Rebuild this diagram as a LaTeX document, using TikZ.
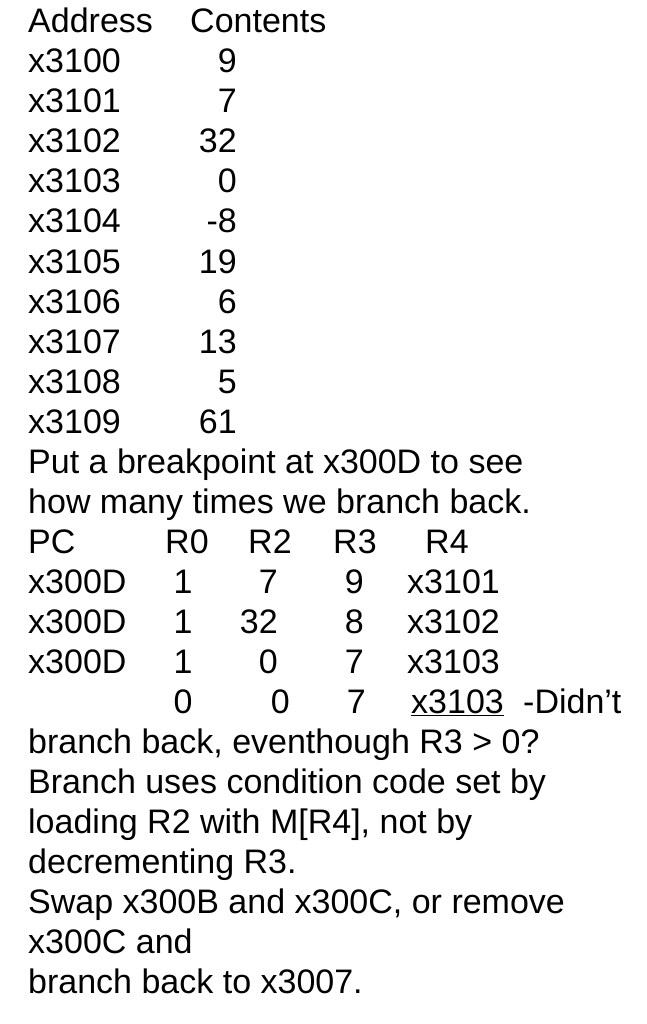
\documentclass[tikz,border=0pt]{standalone}
\usepackage{fontspec}
\setmainfont{Liberation Sans}
\begin{document}
\begin{tikzpicture}[x=1pt,y=-1pt,every node/.style={inner sep=0pt,font=\fontsize{34}{40}\selectfont},
 L/.style={anchor=base west},R/.style={anchor=base east},C/.style={anchor=base}]
\useasboundingbox (0,0) rectangle (646,1024);
\node[L] (h1) at (28,33) {Address};
\node[L] (h2) at (190,33) {Contents};
\foreach \a/\v [count=\i] in {x3100/9,x3101/7,x3102/32,x3103/0,x3104/-8,x3105/19,x3106/6,x3107/13,x3108/5,x3109/61}{
  \node[L] (a\i) at (28,33+40*\i) {\a};
  \node[R] (v\i) at (237,33+40*\i) {\v};
}
\node[L] (t1) at (28,473) {Put a breakpoint at x300D to see};
\node[L] (t2) at (28,513) {how many times we branch back.};
\node[L] (pc) at (28,553) {PC};
\node[L] (r0) at (165,553) {R0};
\node[L] (r2) at (248,553) {R2};
\node[L] (r3) at (333,553) {R3};
\node[L] (r4) at (425,553) {R4};
\foreach \rr/\b/\c/\d [count=\i] in {7/9/x3101,32/8/x3102,0/7/x3103}{
  \node[L] (p\i) at (28,553+40*\i) {x300D};
  \node[C] (q\i) at (183,553+40*\i) {1};
  \node[R] (s\i) at (278,553+40*\i) {\rr};
  \node[R] (u\i) at (364,553+40*\i) {\b};
  \node[L] (w\i) at (407,553+40*\i) {\c};
}
\node[C] (q4) at (183,713) {0};
\node[R] (s4) at (290,713) {0};
\node[R] (u4) at (366,713) {7};
\node[L] (w4) at (411,713) {\underline{x3103}};
\node[L] (d4) at (523,713) {-Didn’t};
\node[L] (l1) at (28,753) {branch back, eventhough R3 > 0?};
\node[L] (l2) at (28,793) {Branch uses condition code set by};
\node[L] (l3) at (28,833) {loading R2 with M[R4], not by};
\node[L] (l4) at (28,873) {decrementing R3.};
\node[L] (l5) at (28,913) {Swap x300B and x300C, or remove};
\node[L] (l6) at (28,953) {x300C and};
\node[L] (l7) at (28,993) {branch back to x3007.};
\end{tikzpicture}
\end{document}
